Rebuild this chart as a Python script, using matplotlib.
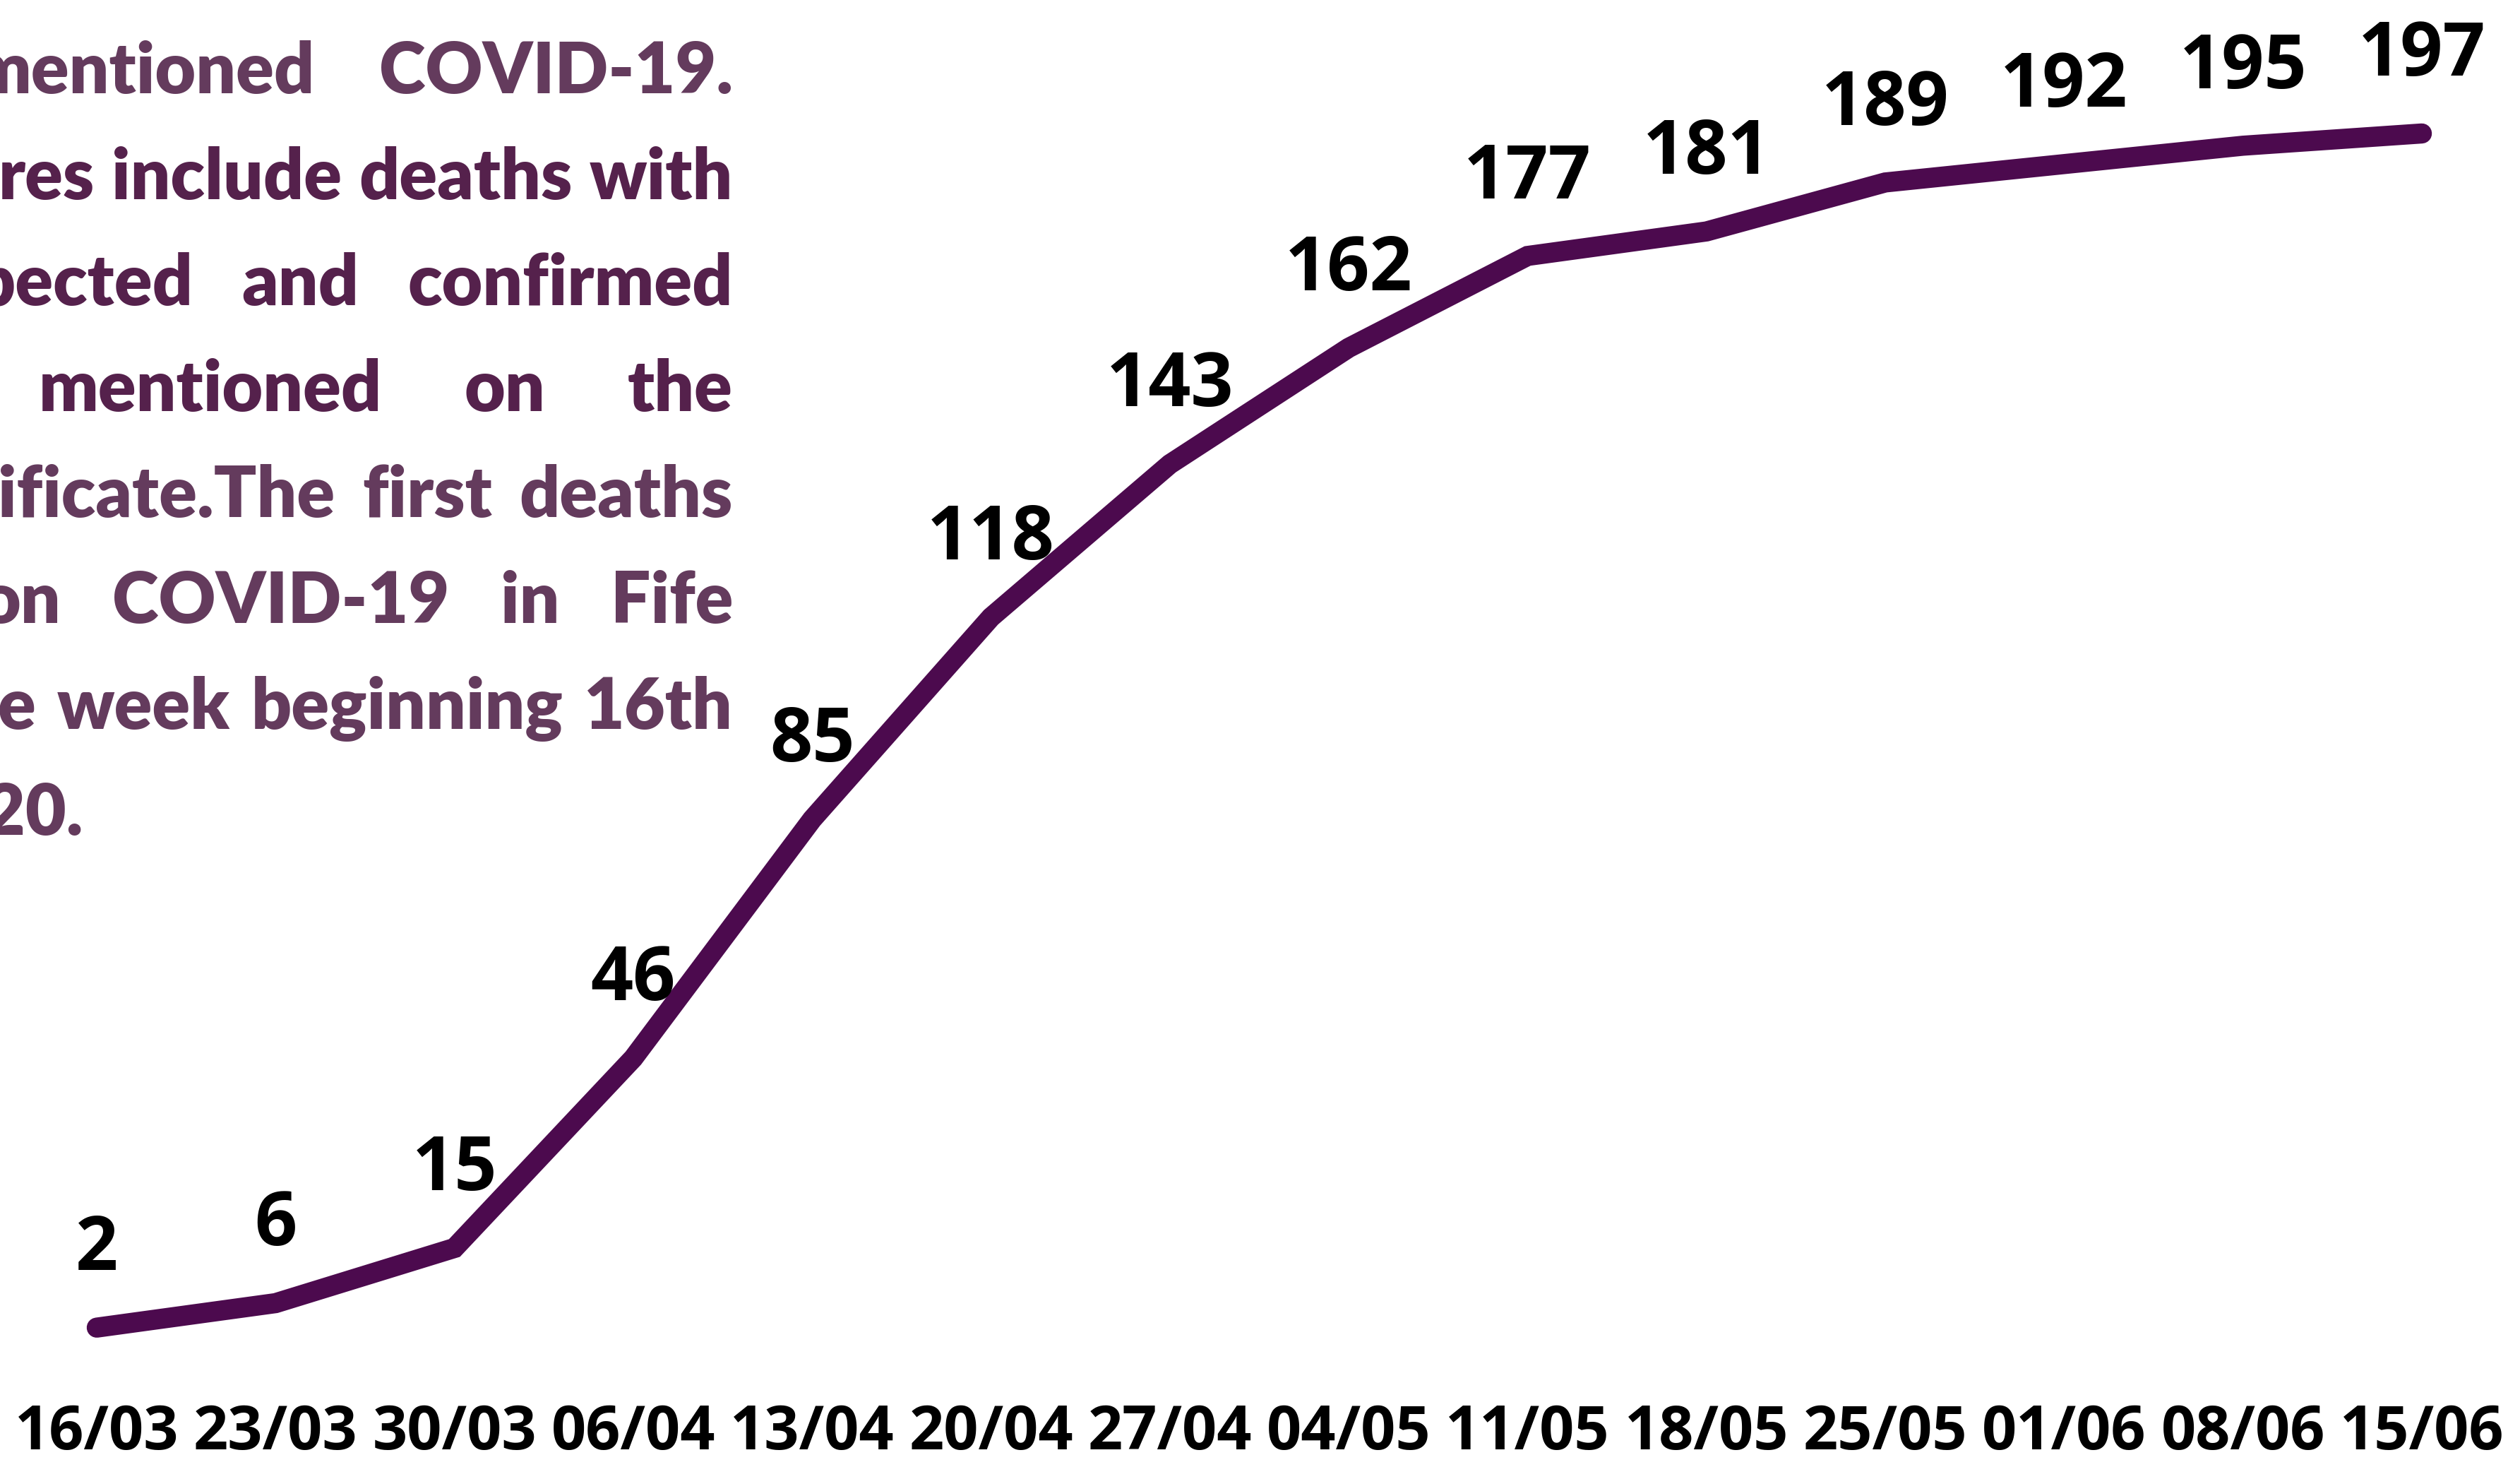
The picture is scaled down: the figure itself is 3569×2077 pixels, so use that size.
import matplotlib
matplotlib.use("Agg")
import matplotlib.pyplot as plt

# ---- data ----
weeks = ["16/03", "23/03", "30/03", "06/04", "13/04", "20/04", "27/04",
         "04/05", "11/05", "18/05", "25/05", "01/06", "08/06", "15/06"]
deaths = [2, 6, 15, 46, 85, 118, 143, 162, 177, 181, 189, 192, 195, 197]

para_lines = [
    ["mentioned", "COVID-19."],
    ["res", "include", "deaths", "with"],
    ["pected", "and", "confirmed"],
    ["mentioned", "on", "the"],
    ["ificate.The", "first", "deaths"],
    ["on", "COVID-19", "in", "Fife"],
    ["e", "week", "beginning", "16th"],
    ["20."],
]
para_dark = [False, True, True, True, False, False, False, False]
para_x0 = [-40, -2, -35, 55, -3, -28, -3, -22]
para_justify = [True, True, True, True, True, True, True, False]

# ---- style ----
W, H, DPI = 3569, 2077, 100
LINE_C = "#4c0a4e"
TXT_LIGHT = "#643b5d"
TXT_DARK = "#55214c"
TICK_FONT = ["Open Sans", "DejaVu Sans"]
LABEL_FONT = ["Open Sans", "DejaVu Sans"]
PARA_FONT = ["Lato", "DejaVu Sans"]

fig = plt.figure(figsize=(W / DPI, H / DPI), dpi=DPI)
fig.patch.set_facecolor("white")

ax_bottom_px = 117
ax = fig.add_axes([0, ax_bottom_px / H, 1, 1 - ax_bottom_px / H])
px_x = 253.3
px_y = 8.672
ax.set_xlim(-137 / px_x, 13 + 139 / px_x)
ax.set_ylim(-(1960 - 1897) / px_y, 197 + 189 / px_y)
for s in ax.spines.values():
    s.set_visible(False)
ax.set_yticks([])
x = list(range(len(weeks)))
ax.plot(x, deaths, color=LINE_C, lw=20.5, solid_capstyle="round",
        solid_joinstyle="miter", zorder=2)
ax.set_xticks(x)
ax.set_xticklabels(weeks, fontfamily=TICK_FONT, fontweight="bold",
                   fontsize=62, color="black")
ax.tick_params(axis="x", length=0, pad=19)

for xi, v in zip(x, deaths):
    ax.annotate(str(v), (xi, v), xytext=(0, 79), textcoords="offset points",
                ha="center", va="center", fontfamily=LABEL_FONT,
                fontweight="bold", fontsize=76, color="black", zorder=3)

# ---- justified paragraph (cropped on the left) ----
renderer = fig.canvas.get_renderer()
right_px = 1038
base_size = 73
pitch = 150
first_base = 132


def word_width(w, size):
    t = fig.text(0, 0, w, fontfamily=PARA_FONT, fontweight="heavy",
                 fontsize=size)
    bb = t.get_window_extent(renderer)
    t.remove()
    return bb.width


space_ratio = 0.24


def natural(words, size):
    ws = [word_width(w, size) for w in words]
    return sum(ws) + space_ratio * size / 0.72 * (len(words) - 1)


nat = natural(para_lines[1], base_size)
size = base_size * (right_px - para_x0[1]) / nat

for i, words in enumerate(para_lines):
    color = TXT_DARK if para_dark[i] else TXT_LIGHT
    ybase = 1 - (first_base + i * pitch) / H
    ws = [word_width(w, size) for w in words]
    x0 = para_x0[i]
    if para_justify[i] and len(words) > 1:
        gap = (right_px - x0 - sum(ws)) / (len(words) - 1)
    else:
        gap = space_ratio * size / 0.72
    cur = x0
    for w, wd in zip(words, ws):
        fig.text(cur / W, ybase, w, fontfamily=PARA_FONT, fontweight="heavy",
                 fontsize=size, color=color, ha="left", va="baseline")
        cur += wd + gap

fig.savefig("out.png", dpi=DPI, facecolor="white")
